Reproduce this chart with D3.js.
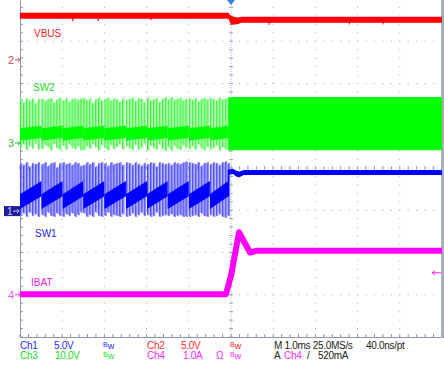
<!DOCTYPE html>
<html>
<head>
<meta charset="utf-8">
<script src="https://cdn.jsdelivr.net/npm/d3@7"></script>
<style>
  body { margin: 0; background: #fff; }
  svg { display: block; font-family: "Liberation Sans", Arial, sans-serif; }
</style>
</head>
<body>
<script>
// time axis in ms, trigger at 0 (1.0 ms/div, 10 div)
const toothEdges = [-5.0, -4.49, -3.99, -3.5, -3.0, -2.49, -1.99, -1.5, -1.0, -0.5, -0.06];
const pulseOffsets = [0.03, 0.10, 0.17, 0.24, 0.31, 0.38, 0.45];

// SW1 (Ch1, V) before the step: pulse tops / bottoms per tooth
const sw1Top = [
  [5.7, 5.5, 5.8, 5.3, 5.7, 5.6, 5.8],
  [5.6, 5.8, 5.4, 5.7, 5.8, 5.2, 5.7],
  [5.8, 5.6, 5.7, 5.5, 5.8, 5.7, 5.4],
  [5.5, 5.8, 5.6, 5.8, 5.3, 5.7, 5.8],
  [5.7, 5.4, 5.8, 5.6, 5.7, 5.8, 5.5],
  [5.8, 5.7, 5.5, 5.8, 5.6, 5.4, 5.7],
  [5.6, 5.8, 5.7, 5.3, 5.8, 5.7, 5.6],
  [5.7, 5.5, 5.8, 5.7, 5.6, 5.8, 5.9],
  [5.8, 5.7, 5.6, 5.8, 5.4, 5.7, 5.8],
  [5.6, 5.8, 5.7, 5.5, 5.8, 5.9, 5.7]
];
const sw1Bot = [
  [-0.6, -0.3, -0.7, -0.2, -0.6, -0.4, -0.7],
  [-0.5, -0.7, -0.2, -0.6, -0.7, -0.3, -0.6],
  [-0.7, -0.4, -0.6, -0.3, -0.7, -0.5, -0.2],
  [-0.3, -0.7, -0.5, -0.7, -0.2, -0.6, -0.7],
  [-0.6, -0.2, -0.7, -0.5, -0.6, -0.7, -0.4],
  [-0.7, -0.6, -0.3, -0.7, -0.5, -0.2, -0.6],
  [-0.5, -0.7, -0.6, -0.2, -0.7, -0.6, -0.5],
  [-0.6, -0.4, -0.7, -0.6, -0.5, -0.7, -0.7],
  [-0.7, -0.6, -0.5, -0.7, -0.3, -0.6, -0.7],
  [-0.5, -0.7, -0.6, -0.4, -0.7, -0.8, -0.6]
];
// dense ramp band of SW1 in each tooth: [start, end]
const sw1BandHi = [2.0, 3.55];
const sw1BandLo = [0.24, 1.77];

// SW2 (Ch3, V) before the step
const sw2Top = [
  [10.4, 9.8, 10.7, 10.2, 10.6, 9.5, 10.5],
  [10.6, 10.1, 10.5, 10.7, 9.7, 10.4, 10.8],
  [10.2, 10.7, 9.9, 10.5, 10.6, 10.3, 10.7],
  [10.7, 10.3, 10.6, 9.6, 10.5, 10.8, 10.2],
  [10.5, 10.8, 10.2, 10.6, 10.4, 9.9, 10.6],
  [10.3, 10.6, 10.8, 10.1, 10.7, 10.5, 9.7],
  [10.8, 10.2, 10.5, 10.7, 9.8, 10.6, 10.9],
  [10.4, 10.9, 10.3, 10.6, 10.8, 10.2, 10.5],
  [10.6, 10.3, 10.7, 9.9, 10.5, 10.8, 10.4],
  [10.7, 10.5, 10.2, 10.8, 10.4, 10.6, 10.9]
];
const sw2Bot = [
  [-1.2, -0.4, -1.7, -0.8, -1.4, -0.2, -1.6],
  [-1.5, -0.6, -1.1, -1.8, -0.3, -1.3, -1.7],
  [-0.7, -1.6, -0.4, -1.2, -1.5, -0.9, -1.8],
  [-1.7, -0.9, -1.4, -0.3, -1.1, -1.8, -0.6],
  [-1.3, -1.8, -0.6, -1.5, -1.0, -0.4, -1.6],
  [-0.8, -1.4, -1.7, -0.5, -1.6, -1.2, -0.3],
  [-1.8, -0.7, -1.3, -1.6, -0.4, -1.5, -1.9],
  [-1.1, -1.9, -0.8, -1.4, -1.7, -0.6, -1.2],
  [-1.5, -0.9, -1.6, -0.4, -1.3, -1.8, -1.0],
  [-1.6, -1.2, -0.7, -1.8, -1.1, -1.5, -1.9]
];
const sw2BandHi = [3.5, 4.1];
const sw2BandLo = [0.6, 1.2];

// after the step: envelopes
const postT = [-0.06, 0.05, 0.12, 0.2, 0.3, 5.0];
const sw1PostHi = [4.9, 5.0, 4.8, 4.7, 4.85, 4.85];
const sw1PostLo = [4.3, 4.4, 4.1, 4.0, 4.26, 4.26];
const sw2PostHi = [10.9, 10.9, 10.9, 10.9, 10.9, 10.9];
const sw2PostLo = [-1.7, -1.7, -1.7, -1.7, -1.7, -1.7];

// VBUS (Ch2, V)
const vbusT  = [-5.0, -0.06, 0.0, 0.15, 0.25, 5.0];
const vbusHi = [5.56, 5.56, 5.2, 5.0, 5.09, 5.09];
const vbusLo = [4.85, 4.85, 4.14, 4.2, 4.38, 4.38];
const vbusSpikeT = [-3.75, -3.15, -1.9, 0.9, 2.8, 3.6];
const vbusSpikeV = [4.6, 4.6, 4.7, 4.15, 4.2, 4.2];

// IBAT (Ch4, A)
const ibatT = [-5.0, -0.12, 0.0, 0.19, 0.45, 0.6, 5.0];
const ibatA = [0.01, 0.01, 0.45, 1.48, 1.0, 1.04, 1.04];

const labels = [
  { text: "VBUS", x: 34, y: 37, color: "#ee2222" },
  { text: "SW2", x: 33, y: 91, color: "#22dd22" },
  { text: "SW1", x: 35, y: 237, color: "#2222ee" },
  { text: "IBAT", x: 31, y: 286, color: "#ee22ee" }
];

const readout = [
  { text: "Ch1", x: 20, row: 0, color: "#2a2aff" },
  { text: "5.0V", x: 54, row: 0, color: "#2a2aff" },
  { text: "Ch2", x: 147, row: 0, color: "#ff2a2a" },
  { text: "5.0V", x: 181, row: 0, color: "#ff2a2a" },
  { text: "M 1.0ms 25.0MS/s", x: 274, row: 0, color: "#222" },
  { text: "40.0ns/pt", x: 366, row: 0, color: "#222" },
  { text: "Ch3", x: 20, row: 1, color: "#22dd22" },
  { text: "10.0V", x: 55, row: 1, color: "#22dd22" },
  { text: "Ch4", x: 147, row: 1, color: "#ff2aff" },
  { text: "1.0A", x: 183, row: 1, color: "#ff2aff" },
  { text: "\u03a9", x: 216, row: 1, color: "#ff2aff" },
  { text: "A", x: 274, row: 1, color: "#222" },
  { text: "Ch4", x: 284, row: 1, color: "#ff2aff" },
  { text: "/", x: 307, row: 1, color: "#222" },
  { text: "520mA", x: 318, row: 1, color: "#222" }
];
const bwMarks = [
  { x: 103, row: 0, color: "#2a2aff" },
  { x: 230, row: 0, color: "#ff2a2a" },
  { x: 103, row: 1, color: "#22dd22" },
  { x: 230, row: 1, color: "#ff2aff" }
];

const W = 444, H = 366;
const svg = d3.select("body").append("svg").attr("width", W).attr("height", H);

const x = d3.scaleLinear().domain([-5, 5]).range([20, 442]);
const div = d3.scaleLinear().domain([-4, 4]).range([337, -1]);
const ch1 = v => div(-1.02 + v / 5);
const ch2 = v => div(2.56 + v / 5);
const ch3 = v => div(0.59 + v / 10);
const ch4 = v => div(-3.0 + v / 1);

// ---- graticule ----
const grid = svg.append("g");
const minorX = d3.range(-5, 5.001, 0.2);
const minorY = d3.range(-4, 4.001, 0.2);
const gridCol = "#a8a2c4";
d3.range(-4, 5).forEach(dx => {
  minorY.forEach(dy => {
    grid.append("rect").attr("x", x(dx) - 0.5).attr("y", div(dy) - 0.5)
      .attr("width", 1).attr("height", 1).attr("fill", gridCol);
  });
});
d3.range(-3, 4).forEach(dy => {
  minorX.forEach(dx => {
    grid.append("rect").attr("x", x(dx) - 0.5).attr("y", div(dy) - 0.5)
      .attr("width", 1).attr("height", 1).attr("fill", gridCol);
  });
});
// center axes with ticks
grid.append("line").attr("x1", x(0)).attr("x2", x(0)).attr("y1", div(4)).attr("y2", div(-4))
  .attr("stroke", "#b8b8c8").attr("stroke-dasharray", "1,1");
grid.append("line").attr("x1", x(-5)).attr("x2", x(5)).attr("y1", div(0)).attr("y2", div(0))
  .attr("stroke", "#c8c8d4").attr("stroke-dasharray", "1,3");
minorY.forEach(dy => {
  grid.append("line").attr("x1", x(0) - 2).attr("x2", x(0) + 2).attr("y1", div(dy)).attr("y2", div(dy))
    .attr("stroke", "#a8a2c4");
});
minorX.forEach(dx => {
  grid.append("line").attr("x1", x(dx)).attr("x2", x(dx)).attr("y1", div(0) - 2).attr("y2", div(0) + 2)
    .attr("stroke", "#a8a2c4");
});
// frame
grid.append("line").attr("x1", 20.5).attr("x2", 20.5).attr("y1", 0).attr("y2", div(-4))
  .attr("stroke", "#8f96a8");
grid.append("line").attr("x1", 20).attr("x2", 442).attr("y1", div(-4) + 0.5).attr("y2", div(-4) + 0.5)
  .attr("stroke", "#8f96a8");
grid.append("rect").attr("x", 441).attr("y", 0).attr("width", 3).attr("height", div(-4) + 1)
  .attr("fill", "#a9b0bd");
minorY.forEach(dy => {
  grid.append("line").attr("x1", 20).attr("x2", 23).attr("y1", div(dy)).attr("y2", div(dy)).attr("stroke", "#8f96a8");
});
minorX.forEach(dx => {
  grid.append("line").attr("x1", x(dx)).attr("x2", x(dx)).attr("y1", div(-4) - 3).attr("y2", div(-4)).attr("stroke", "#8f96a8");
});

// ---- switching waveforms before the step ----
function drawSwitching(g, ch, top, bot, bandHi, bandLo, light, mid, dark) {
  toothEdges.slice(0, -1).forEach((t0, i) => {
    const t1 = toothEdges[i + 1];
    pulseOffsets.forEach((o, j) => {
      const px = x(t0 + o);
      g.append("rect").attr("x", px - 1).attr("width", 2.2)
        .attr("y", ch(top[i][j])).attr("height", ch(bot[i][j]) - ch(top[i][j]))
        .attr("fill", light);
      g.append("line").attr("x1", px - 0.8).attr("x2", px - 0.8)
        .attr("y1", ch(top[i][j]) + 1).attr("y2", ch(bot[i][j]) - 1)
        .attr("stroke", mid).attr("stroke-width", 0.9);
    });
    const pts = [[t0, bandLo[0]], [t0, bandHi[0]], [t1, bandHi[1]], [t1, bandLo[1]]];
    g.append("path")
      .attr("d", d3.line().x(d => x(d[0])).y(d => ch(d[1]))(pts) + "Z")
      .attr("fill", dark);
  });
}

const sw2g = svg.append("g");
drawSwitching(sw2g, ch3, sw2Top, sw2Bot, sw2BandHi, sw2BandLo, "#8cff8c", "#2eee2e", "#00ff00");
const post = postT.map((t, i) => ({ t, hi: sw2PostHi[i], lo: sw2PostLo[i] }));
sw2g.append("path")
  .attr("d", d3.area().x(d => x(d.t)).y0(d => ch3(d.lo)).y1(d => ch3(d.hi))(post))
  .attr("fill", "#00ff00");

const sw1g = svg.append("g");
drawSwitching(sw1g, ch1, sw1Top, sw1Bot, sw1BandHi, sw1BandLo, "#8a8aff", "#3a3af4", "#0000ff");
const post1 = postT.map((t, i) => ({ t, hi: sw1PostHi[i], lo: sw1PostLo[i] }));
sw1g.append("path")
  .attr("d", d3.area().x(d => x(d.t)).y0(d => ch1(d.lo)).y1(d => ch1(d.hi))(post1))
  .attr("fill", "#0000ff");
sw1g.append("line").attr("x1", x(toothEdges[10])).attr("x2", x(toothEdges[10]))
  .attr("y1", ch1(sw1BandLo[1])).attr("y2", ch1(sw1PostHi[0]))
  .attr("stroke", "#0000ff").attr("stroke-width", 1.5);

// ---- VBUS ----
const vb = vbusT.map((t, i) => ({ t, hi: vbusHi[i], lo: vbusLo[i] }));
svg.append("path")
  .attr("d", d3.area().x(d => x(d.t)).y0(d => ch2(d.lo)).y1(d => ch2(d.hi))(vb))
  .attr("fill", "#ff0000");
vbusSpikeT.forEach((t, i) => {
  svg.append("rect").attr("x", x(t) - 0.5).attr("width", 1.2)
    .attr("y", ch2(5.0)).attr("height", ch2(vbusSpikeV[i]) - ch2(5.0)).attr("fill", "#ff0000");
});

// ---- IBAT ----
svg.append("path")
  .datum(ibatT.map((t, i) => [t, ibatA[i]]))
  .attr("d", d3.line().x(d => x(d[0])).y(d => ch4(d[1])))
  .attr("fill", "none").attr("stroke", "#ff00ff").attr("stroke-width", 6)
  .attr("stroke-linejoin", "round");

// ---- markers ----
const marks = [
  { n: "2", y: ch2(0), color: "#d04a5a" },
  { n: "3", y: ch3(0), color: "#3cb43c" },
  { n: "4", y: ch4(0), color: "#e45ce4" }
];
marks.forEach(m => {
  svg.append("text").attr("x", 8).attr("y", m.y + 4).attr("font-size", 11)
    .attr("fill", m.color).text(m.n);
  svg.append("path").attr("d", `M15,${m.y}H20M18,${m.y - 2}L20,${m.y}L18,${m.y + 2}`)
    .attr("stroke", m.color).attr("fill", "none");
});
svg.append("rect").attr("x", 4).attr("y", ch1(0) - 5).attr("width", 16).attr("height", 10)
  .attr("fill", "#1c1c9c");
svg.append("text").attr("x", 7).attr("y", ch1(0) + 4).attr("font-size", 10)
  .attr("fill", "#c8c8ff").text("1");
svg.append("path").attr("d", `M13,${ch1(0)}H19M17,${ch1(0) - 2}L19,${ch1(0)}L17,${ch1(0) + 2}`)
  .attr("stroke", "#c8c8ff").attr("fill", "none");
// trigger position and level
svg.append("path").attr("d", `M${x(0) - 4},0H${x(0) + 4}L${x(0)},5Z`).attr("fill", "#3a7ee0");
svg.append("path").attr("d", `M432,${ch4(0.52)}H441M435,${ch4(0.52) - 2}L432,${ch4(0.52)}L435,${ch4(0.52) + 2}`)
  .attr("stroke", "#ee22ee").attr("fill", "none");

// ---- text ----
labels.forEach(l => {
  svg.append("text").attr("x", l.x).attr("y", l.y).attr("font-size", 10)
    .attr("fill", l.color).text(l.text);
});
const rowY = [349, 359];
readout.forEach(r => {
  svg.append("text").attr("x", r.x).attr("y", rowY[r.row]).attr("font-size", 10)
    .attr("letter-spacing", -0.3).attr("fill", r.color).text(r.text);
});
bwMarks.forEach(b => {
  const t = svg.append("text").attr("x", b.x).attr("y", rowY[b.row]).attr("fill", b.color);
  t.append("tspan").attr("font-size", 7).attr("dy", -2).text("B");
  t.append("tspan").attr("font-size", 9).attr("dy", 2).text("w");
});
</script>
</body>
</html>
